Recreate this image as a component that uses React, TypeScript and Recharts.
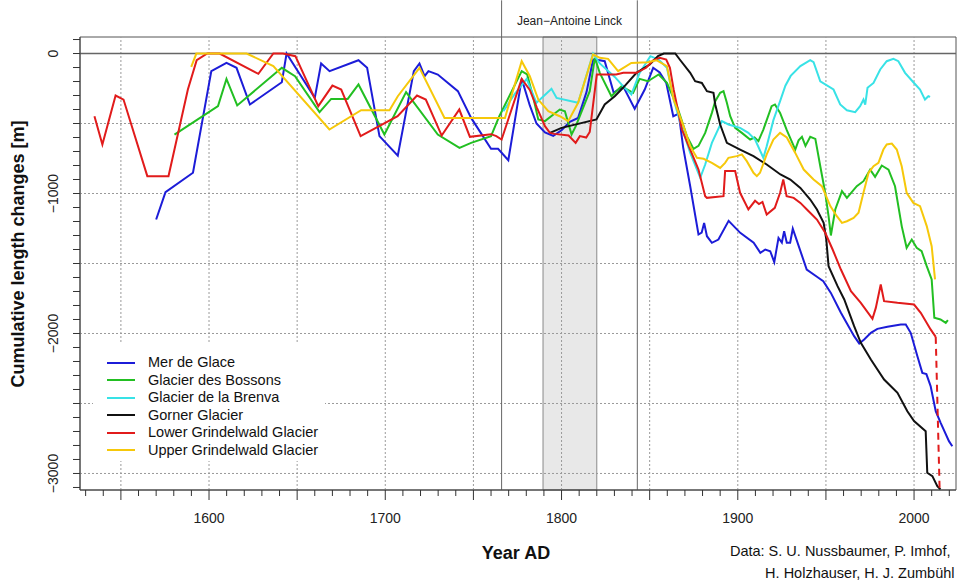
import React from 'react';
import { LineChart, Line, XAxis, YAxis, ReferenceLine, ReferenceArea, Legend } from 'recharts';

const FONT = '"Liberation Sans", Arial, Helvetica, sans-serif';

// [year, cumulative length change in m]
const merDeGlace: [number, number][] = [
  [1570, -1186], [1575.3, -990], [1590.9, -852], [1601.3, -126], [1609.9, -67], [1615.6, -102],
  [1623.2, -364], [1641.3, -205], [1644, 0], [1660, -317], [1663.6, -71], [1668.4, -126],
  [1684.8, -48], [1689.7, -102], [1696.7, -590], [1707.1, -729], [1716.2, -126], [1719.4, -71],
  [1722.3, -162], [1724.5, -126], [1729.8, -150], [1741.2, -269], [1748.7, -460], [1760, -681],
  [1764, -681], [1769.8, -762], [1777.4, -181], [1782, -371], [1785.8, -500], [1790.6, -564],
  [1795.3, -588], [1800, -548], [1804.7, -488], [1809.4, -460], [1814.2, -274], [1817.9, -43],
  [1821.7, -48], [1824.5, -55], [1829.6, -281], [1834.9, -233], [1841.5, -395], [1847.2, -257],
  [1852, -102], [1855.7, -136], [1859.4, -210], [1863.4, -448], [1866.5, -430], [1869, -670],
  [1873, -948], [1877.7, -1293], [1879.5, -1280], [1880.9, -1210], [1882.5, -1305], [1885.3, -1352],
  [1889, -1329], [1894.8, -1195], [1901.4, -1281], [1909, -1352], [1912.8, -1424], [1915.6, -1400],
  [1918.4, -1412], [1920.7, -1490], [1923.1, -1317], [1925, -1350], [1926.3, -1269], [1927.8, -1352],
  [1929.7, -1352], [1931.2, -1252], [1939.1, -1543], [1944.9, -1595], [1948.5, -1626], [1952.8, -1710],
  [1958.5, -1852], [1966, -2019], [1968.9, -2071], [1971.7, -2043], [1975.5, -1995], [1979.2, -1967],
  [1984.9, -1952], [1992.5, -1936], [1995.3, -1936], [1998.1, -1995], [2001.9, -2162], [2004.7, -2281],
  [2007, -2290], [2009.4, -2376], [2012.3, -2555], [2015.1, -2638], [2019.8, -2769], [2021.7, -2805],
];

const bossons: [number, number][] = [
  [1580.4, -579], [1605.1, -376], [1609.9, -181], [1616, -371], [1641.3, -102], [1648.8, -162],
  [1662.7, -419], [1669.3, -324], [1678.7, -324], [1684.8, -221], [1699.5, -579], [1711.8, -276],
  [1729.8, -579], [1742.1, -674], [1748.7, -638], [1760, -590], [1764.7, -448], [1777.4, -126],
  [1780.5, -150], [1784, -317], [1786.8, -471], [1790.6, -483], [1799, -400], [1801.9, -412],
  [1805.7, -579], [1808.1, -519], [1816, -269], [1818.9, -31], [1821.7, -138], [1828.3, -305],
  [1834, -233], [1840.6, -281], [1844.3, -181], [1849, -198], [1855.1, -150], [1859.8, -210],
  [1865.5, -376], [1871.1, -590], [1874.9, -681], [1877.7, -660], [1881.5, -567], [1885.3, -424],
  [1887.2, -340], [1890, -281], [1891.9, -269], [1893.8, -352], [1895.7, -448], [1898.5, -531],
  [1902.3, -567], [1907, -614], [1909.5, -600], [1911.7, -626], [1914.5, -543], [1919.2, -376],
  [1921.1, -364], [1924, -424], [1927.8, -548], [1932.6, -686], [1934.5, -620], [1936.4, -595],
  [1938.4, -660], [1941.1, -595], [1944, -610], [1946.8, -805], [1949.6, -995], [1951.5, -1162],
  [1952.8, -1300], [1955.3, -1114], [1959.1, -983], [1961.9, -1031], [1967.5, -948], [1971.3, -912],
  [1975.1, -829], [1977.9, -881], [1981.7, -800], [1985.5, -829], [1989.2, -948], [1993, -1233],
  [1995.8, -1388], [1998.7, -1329], [2001.5, -1388], [2004.3, -1412], [2007.2, -1519], [2010, -1614],
  [2011.5, -1888], [2015, -1900], [2018, -1924], [2019.2, -1905],
];

const brenva: [number, number][] = [
  [1767, -412], [1773.6, -286], [1780.2, -181], [1785.8, -352], [1794.3, -252], [1797.2, -317],
  [1809.4, -352], [1817.9, 0], [1821.7, -71], [1830.2, -167], [1834.9, -233], [1839.6, -293],
  [1844.3, -138], [1850.4, -19], [1855.1, -43], [1859.8, -102], [1863.6, -329], [1867.4, -495],
  [1873, -710], [1878.7, -888], [1881.5, -793], [1885.3, -638], [1891, -483], [1894.7, -507],
  [1901.3, -531], [1906, -567], [1909.8, -614], [1914.5, -745], [1916.4, -662], [1920.2, -476],
  [1924, -340], [1927, -230], [1930, -160], [1935.5, -90], [1941.1, -48], [1943, -62],
  [1946.8, -198], [1954.3, -257], [1958.1, -364], [1961.9, -405], [1966.6, -419], [1969.4, -376],
  [1971.3, -329], [1972.3, -365], [1973.6, -245], [1977, -210], [1980.8, -114], [1984.5, -55],
  [1988.3, -38], [1991.1, -55], [1994.9, -138], [1999.6, -205], [2003.4, -257], [2006.2, -329],
  [2008.1, -305], [2009.1, -310],
];

const gorner: [number, number][] = [
  [1793.4, -567], [1800, -531], [1819.8, -471], [1824.5, -364], [1830.2, -305], [1834.9, -245],
  [1842.5, -138], [1850, -79], [1854.7, -19], [1858, 0], [1864.5, 0], [1867.4, -48],
  [1873, -138], [1875.8, -198], [1879.6, -210], [1882.5, -269], [1886.2, -281], [1887.2, -364],
  [1890, -507], [1893.8, -638], [1901.3, -686], [1908.9, -733], [1916.4, -793], [1924.2, -864],
  [1929.8, -900], [1935.5, -960], [1941.1, -1043], [1944.9, -1114], [1948.7, -1210], [1950.2, -1328],
  [1951.5, -1519], [1956.6, -1662], [1960.4, -1757], [1966, -1948], [1969.8, -2067], [1975.5, -2186],
  [1983, -2329], [1990.6, -2424], [1996.2, -2555], [2000, -2626], [2006.6, -2698], [2007.5, -2995],
  [2010.4, -3019], [2013.2, -3090], [2015, -3114],
];

const lowerGrindelwald: [number, number][] = [
  [1535, -448], [1539.5, -650], [1547, -300], [1551.5, -329], [1565, -876], [1577, -876],
  [1588, -257], [1593, -48], [1599, 0], [1606, 0], [1628, -145], [1636.5, 0], [1642, 0],
  [1649, -19], [1662, -376], [1670, -229], [1675, -257], [1686, -590], [1707, -448], [1718, -300],
  [1723, -329], [1732, -586], [1742, -400], [1748, -595], [1760, -576], [1763, -590], [1766, -614],
  [1777.4, -181], [1782, -260], [1786, -386], [1790.6, -519], [1793.4, -567], [1796, -574],
  [1804, -586], [1808, -638], [1810.4, -590], [1814, -600], [1816, -560], [1820, -150],
  [1825.5, -150], [1831, -150], [1835, -138], [1842.5, -138], [1848, -102], [1852, -48],
  [1855.7, -31], [1859.4, -43], [1861.5, -102], [1863.6, -257], [1868.3, -543], [1873, -686],
  [1877.7, -829], [1881.5, -1019], [1882.5, -1031], [1891.9, -1019], [1892.8, -840], [1898.5, -840],
  [1901.3, -995], [1906, -1114], [1909.8, -1052], [1912, -1075], [1914, -1060], [1916.4, -1150],
  [1921, -1102], [1924, -995], [1925.8, -900], [1927.7, -1019], [1931.7, -1031], [1935.5, -1067],
  [1939.2, -1114], [1944.9, -1186], [1949.6, -1281], [1953.8, -1400], [1958.5, -1543], [1964.2, -1698],
  [1969.8, -1781], [1976.4, -1895], [1978.3, -1817], [1981.1, -1650], [1983, -1769], [1990.6, -1781],
  [2000, -1793], [2003.8, -1852], [2009.4, -1971], [2012.3, -2024],
];

const lowerGrindelwaldGap: [number, number][] = [
  [2012.3, -2024], [2014.5, -3110],
];

const upperGrindelwald: [number, number][] = [
  [1589.9, -95], [1592.8, 0], [1621.3, 0], [1636.5, -90], [1668.3, -543], [1686.3, -405],
  [1702.4, -405], [1707.1, -305], [1719.4, -102], [1733.6, -460], [1767.9, -460], [1777.4, -55],
  [1782, -162], [1786.8, -329], [1792.5, -412], [1799, -448], [1803.8, -483], [1809.4, -352],
  [1817.9, -7], [1821.7, -31], [1826.4, -38], [1832.1, -126], [1839.6, -67], [1849, -62],
  [1853.8, -48], [1859.8, -90], [1863.6, -329], [1869.2, -519], [1873, -662], [1876.8, -745],
  [1880.6, -752], [1885.3, -781], [1890, -817], [1892.8, -781], [1894.7, -745], [1899.4, -733],
  [1902.3, -721], [1905.1, -769], [1908.9, -852], [1910.8, -876], [1912.6, -852], [1916.4, -721],
  [1920.2, -614], [1924, -567], [1927.8, -600], [1932.6, -710], [1937.4, -829], [1943, -900],
  [1947.7, -948], [1952.5, -1090], [1956.2, -1162], [1959.1, -1210], [1961.9, -1198], [1965.7, -1174],
  [1968.5, -1138], [1971.3, -995], [1974.2, -852], [1977, -805], [1979.8, -781], [1982.6, -686],
  [1984.5, -650], [1987.4, -643], [1990.2, -686], [1993, -805], [1995.8, -995], [1999.6, -1067],
  [2003.4, -1090], [2007.2, -1233], [2010, -1376], [2011.9, -1614],
];

const seriesNames = [
  'Mer de Glace',
  'Glacier des Bossons',
  'Glacier de la Brenva',
  'Gorner Glacier',
  'Lower Grindelwald Glacier',
  'Upper Grindelwald Glacier',
];
const seriesColors = ['#1c1cd8', '#22bf22', '#38e2e6', '#111111', '#e11b1b', '#f6c80a'];
const seriesData = [merDeGlace, bossons, brenva, gorner, lowerGrindelwald, upperGrindelwald];

const xLabelYears = [1600, 1700, 1800, 1900, 2000];
const yLabelValues = [0, -1000, -2000, -3000];
const xGridYears = [1550, 1600, 1650, 1700, 1750, 1800, 1850, 1900, 1950, 2000];
const yGridValues = [-500, -1000, -1500, -2000, -2500, -3000];
const linckYears = [1766, 1843];
const linckPeriod = [1789.5, 1820];
const linckLabel = 'Jean\u2212Antoine Linck';
const creditLines = ['Data: S. U. Nussbaumer, P. Imhof,', 'H. Holzhauser, H. J. Zumbühl'];

const X_DOMAIN: [number, number] = [1526.8, 2023.8];
const Y_DOMAIN: [number, number] = [-3118, 118];
const xTicks = Array.from({ length: 50 }, (_, i) => 1530 + i * 10);
const yTicks = Array.from({ length: 33 }, (_, i) => 100 - i * 100);

const toPoints = (arr: [number, number][]) => arr.map(([year, value]) => ({ year, value }));

const fmtNum = (v: number) => (v < 0 ? '\u2212' + Math.abs(v) : String(v));

const XTick = (props: any) => {
  const { x, y, payload } = props;
  const v = payload.value as number;
  const major = v % 50 === 0;
  return (
    <g>
      <line x1={x} x2={x} y1={y} y2={y + (major ? 10 : 6)} stroke="#333" strokeWidth={1} />
      {xLabelYears.includes(v) && (
        <text x={x} y={y + 33} textAnchor="middle" fontSize={14} fill="#222" fontFamily={FONT}>
          {v}
        </text>
      )}
    </g>
  );
};

const YTick = (props: any) => {
  const { x, y, payload } = props;
  const v = payload.value as number;
  return (
    <g>
      <line x1={x - 7} x2={x} y1={y} y2={y} stroke="#333" strokeWidth={1} />
      {yLabelValues.includes(v) && (
        <text
          transform={`translate(${x - 27},${y}) rotate(-90)`}
          textAnchor="middle"
          dy="0.36em"
          fontSize={14}
          fill="#222"
          fontFamily={FONT}
        >
          {fmtNum(v)}
        </text>
      )}
    </g>
  );
};

const LinckLabel = (props: any) => {
  const vb = props.viewBox || {};
  const cx = vb.x + vb.width / 2;
  return (
    <text x={cx} y={25} textAnchor="middle" fontSize={12} fill="#222" fontFamily={FONT}>
      {linckLabel}
    </text>
  );
};

const LegendBox = () => (
  <div
    style={{
      background: '#fff',
      width: 232,
      height: 118,
      boxSizing: 'border-box',
      paddingTop: 11,
      paddingLeft: 14,
      fontFamily: FONT,
      fontSize: 14.5,
      color: '#111',
    }}
  >
    {seriesNames.map((n, i) => (
      <div key={n} style={{ display: 'flex', alignItems: 'center', height: 17.5 }}>
        <div style={{ width: 28, height: 2, background: seriesColors[i], marginRight: 13 }} />
        <span style={{ lineHeight: '17.5px', whiteSpace: 'nowrap' }}>{n}</span>
      </div>
    ))}
  </div>
);

export default function App() {
  return (
    <div style={{ position: 'absolute', left: 0, top: 0, width: 958, height: 582, background: '#fff' }}>
      <LineChart
        width={958}
        height={582}
        margin={{ top: 37, right: 2, bottom: 0, left: 0 }}
        style={{ position: 'absolute', left: 0, top: 0 }}
      >
        <XAxis
          dataKey="year"
          type="number"
          domain={X_DOMAIN}
          allowDataOverflow
          ticks={xTicks}
          interval={0}
          height={92}
          tickSize={0}
          tickMargin={0}
          tickLine={false}
          axisLine={{ stroke: '#444', strokeWidth: 1 }}
          tick={<XTick />}
        />
        <YAxis
          dataKey="value"
          type="number"
          domain={Y_DOMAIN}
          allowDataOverflow
          ticks={yTicks}
          interval={0}
          width={80}
          tickSize={0}
          tickMargin={0}
          tickLine={false}
          axisLine={{ stroke: '#444', strokeWidth: 1 }}
          tick={<YTick />}
        />
        {xGridYears.map((g) => (
          <ReferenceLine key={'vx' + g} x={g} stroke="#9a9a9a" strokeDasharray="2 2" strokeWidth={1} />
        ))}
        {yGridValues.map((g) => (
          <ReferenceLine key={'hy' + g} y={g} stroke="#9a9a9a" strokeDasharray="2 2" strokeWidth={1} />
        ))}
        <ReferenceArea
          x1={linckPeriod[0]}
          x2={linckPeriod[1]}
          y1={Y_DOMAIN[0]}
          y2={Y_DOMAIN[1]}
          fill="#e8e8e8"
          fillOpacity={1}
          stroke="#8a8a8a"
          strokeWidth={1}
        />
        <ReferenceArea
          x1={linckYears[0]}
          x2={linckYears[1]}
          y1={Y_DOMAIN[1]}
          y2={380}
          ifOverflow="visible"
          fill="none"
          stroke="none"
          label={<LinckLabel />}
        />
        {linckYears.map((yr) => (
          <ReferenceLine
            key={'linck' + yr}
            segment={[{ x: yr, y: Y_DOMAIN[0] }, { x: yr, y: 380 }]}
            ifOverflow="visible"
            stroke="#666"
            strokeWidth={1}
          />
        ))}
        <ReferenceLine y={0} stroke="#666" strokeWidth={1.5} />
        <ReferenceArea
          x1={X_DOMAIN[0]}
          x2={X_DOMAIN[1]}
          y1={Y_DOMAIN[0]}
          y2={Y_DOMAIN[1]}
          fill="none"
          stroke="#555"
          strokeWidth={1}
        />
        {seriesData.map((d, i) => (
          <Line
            key={seriesNames[i]}
            data={toPoints(d)}
            dataKey="value"
            name={seriesNames[i]}
            type="linear"
            stroke={seriesColors[i]}
            strokeWidth={2}
            dot={false}
            isAnimationActive={false}
          />
        ))}
        <Line
          data={toPoints(lowerGrindelwaldGap)}
          dataKey="value"
          name="gap"
          legendType="none"
          type="linear"
          stroke={seriesColors[4]}
          strokeWidth={2}
          strokeDasharray="7 5"
          dot={false}
          isAnimationActive={false}
        />
        <Legend
          layout="vertical"
          align="center"
          verticalAlign="middle"
          content={<LegendBox />}
          wrapperStyle={{ position: 'absolute', left: 93, top: 343, width: 232, height: 118 }}
        />
      </LineChart>
      <svg
        width={958}
        height={582}
        style={{ position: 'absolute', left: 0, top: 0, pointerEvents: 'none' }}
      >
        <text
          transform="translate(18,254) rotate(-90)"
          textAnchor="middle"
          dy="0.36em"
          fontFamily={FONT}
          fontWeight="bold"
          fontSize={18}
          fill="#111"
        >
          Cumulative length changes [m]
        </text>
        <text x={516} y={559} textAnchor="middle" fontFamily={FONT} fontWeight="bold" fontSize={18} fill="#111">
          Year AD
        </text>
        <text x={950.5} y={556} textAnchor="end" fontFamily={FONT} fontSize={14.5} fill="#111">
          {creditLines[0]}
        </text>
        <text x={954.5} y={578} textAnchor="end" fontFamily={FONT} fontSize={14.5} fill="#111">
          {creditLines[1]}
        </text>
      </svg>
    </div>
  );
}
